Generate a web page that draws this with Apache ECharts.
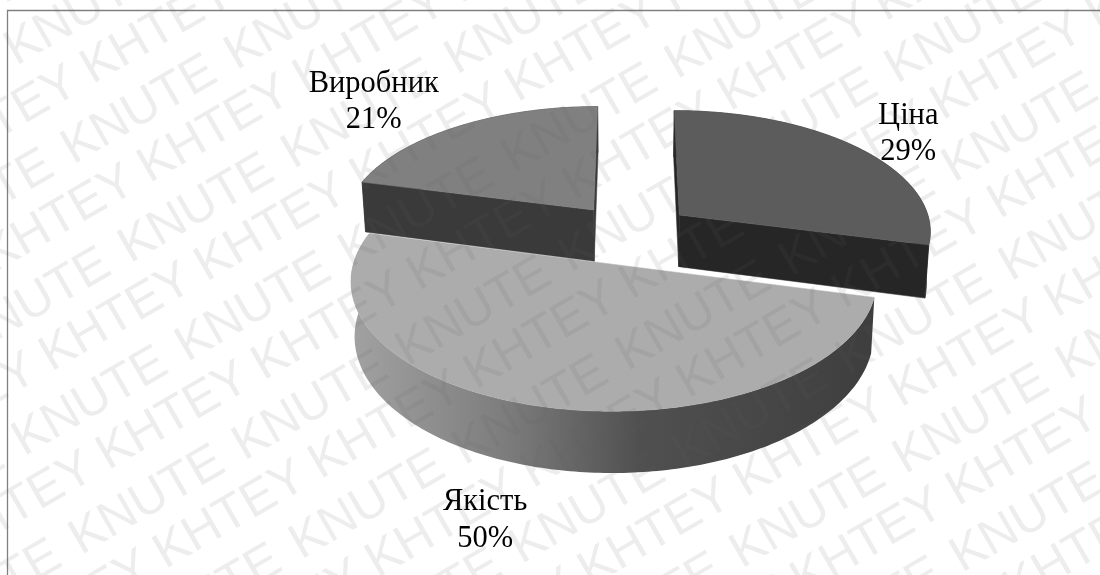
<!DOCTYPE html>
<html>
<head>
<meta charset="utf-8">
<style>html,body{margin:0;padding:0;background:#fff}#chart{width:1100px;height:575px}</style>
<script src="https://cdn.jsdelivr.net/npm/echarts@6/dist/echarts.min.js"></script>
</head>
<body>
<div id="chart"></div>
<script>
// Shares of the purchase factors, clockwise from twelve o'clock
const categories = ['Ціна', 'Якість', 'Виробник'];
const shares = [29, 50, 21];

// How far each slice is pulled out of the pie, in radii
const explode = [0.246, 0.26, 0.246];
const topColors = ['#5c5c5c', '#acacac', '#808080'];
const wallColors = ['#262626', null, '#3a3a3a'];
// Label centre relative to the slice apex, in pixels
const labelOffsets = [[229, -81], [-129, 256], [-220, -108]];

const watermarkWords = ['KNUTE', 'KHTEY'];

// Perspective of the pie plane
const view = { x0: 631, y0: 233, ax: 253, by: 121, k: 0.12, depth: 52.5, shrink: 0.987 };

function project(u, v, low) {
  const w = 1 + view.k * v;
  let x = view.x0 + view.ax * u / w;
  let y = view.y0 - view.by * v / w;
  if (low) {
    x = view.x0 + (x - view.x0) * view.shrink;
    y += view.depth / w;
  }
  return [x, y];
}

const total = shares.reduce((a, b) => a + b, 0);
function sliceRange(index) {
  let before = 0;
  for (let i = 0; i < index; i++) before += shares[i];
  return [before / total * 2 * Math.PI, (before + shares[index]) / total * 2 * Math.PI];
}

function renderSlice(params, api) {
  const i = params.dataIndex;
  const [a0, a1] = sliceRange(i);
  const mid = (a0 + a1) / 2;
  const cu = explode[i] * Math.sin(mid);
  const cv = explode[i] * Math.cos(mid);
  const rim = [];
  const steps = Math.ceil((a1 - a0) * 60);
  for (let s = 0; s <= steps; s++) {
    const t = a0 + (a1 - a0) * s / steps;
    rim.push([cu + Math.sin(t), cv + Math.cos(t)]);
  }
  const apexTop = project(cu, cv, false);
  const apexLow = project(cu, cv, true);
  const rimTop = rim.map(p => project(p[0], p[1], false));
  const rimLow = rim.map(p => project(p[0], p[1], true));
  const z = Math.round(100 - cv * 100);

  const wallFill = wallColors[i] || {
    type: 'linear', x: 0, y: 0, x2: 1, y2: 0,
    colorStops: [
      { offset: 0, color: '#a2a2a2' },
      { offset: 0.3, color: '#7c7c7c' },
      { offset: 0.55, color: '#505050' },
      { offset: 1, color: '#3e3e3e' }
    ]
  };
  const face = (pts, fill) => ({
    type: 'polygon', z2: z, silent: true, shape: { points: pts },
    style: typeof fill === 'string'
      ? { fill: fill, stroke: fill, lineWidth: 0.5, lineJoin: 'round' }
      : { fill: fill }
  });
  const children = [];
  if (wallColors[i]) {
    children.push(face([apexTop, rimTop[0], rimLow[0], apexLow], wallFill));
    children.push(face([apexTop, rimTop[rimTop.length - 1], rimLow[rimLow.length - 1], apexLow], wallFill));
  }
  children.push(face(rimTop.concat(rimLow.slice().reverse()), wallFill));
  children.push(face([apexTop].concat(rimTop), topColors[i]));

  const off = labelOffsets[i];
  children.push({
    type: 'text', z2: 500,
    x: apexTop[0] + off[0], y: apexTop[1] + off[1],
    style: {
      text: categories[i] + '\n' + api.value(1) + '%',
      font: '30.5px "Liberation Serif"', lineHeight: 36.5,
      fill: '#000', align: 'center', verticalAlign: 'middle'
    }
  });
  return { type: 'group', children };
}

// Diagonal repeated lettering laid over the whole drawing;
// the two words alternate row by row, each with its own pitch
function watermark() {
  const out = [];
  const angle = Math.PI / 6;
  const fontSize = 50;
  const tx = Math.cos(angle), ty = -Math.sin(angle);
  const nx = Math.sin(angle), ny = Math.cos(angle);
  const rowGap = 57;
  // Text is anchored on its mid-height, so lift the baseline points by that much
  const lift = fontSize * 0.35;
  const anchors = [[75, 168, 188.5], [53, 375, 179.5]];
  for (let r = -18; r <= 18; r++) {
    const kind = ((r % 2) + 2) % 2;
    const [ax, ay, pitch] = anchors[kind];
    const row = kind === 0 ? r : r - 3;
    for (let c = -9; c <= 9; c++) {
      const x = ax + nx * (row * rowGap - lift) + tx * c * pitch;
      const y = ay + ny * (row * rowGap - lift) + ty * c * pitch;
      const ex = x + tx * 170, ey = y + ty * 170;
      if ((x < -60 && ex < -60) || (x > 1160 && ex > 1160) || (y < -60 && ey < -60) || (y > 640 && ey > 640)) continue;
      out.push({
        type: 'text', x, y, rotation: angle, silent: true, z: 100,
        style: {
          text: watermarkWords[kind],
          font: fontSize + 'px "Liberation Sans"',
          fill: 'rgba(100,100,100,0.115)',
          verticalAlign: 'middle'
        }
      });
    }
  }
  return out;
}

const frame = {
  type: 'polyline', silent: true, z: 50,
  shape: { points: [[7.5, 575], [7.5, 10.5], [1100, 10.5]] },
  style: { stroke: '#808080', lineWidth: 1.3, fill: null }
};

const chart = echarts.init(document.getElementById('chart'), null, { renderer: 'canvas' });
chart.setOption({
  animation: false,
  backgroundColor: '#ffffff',
  graphic: { elements: [frame].concat(watermark()) },
  series: [{
    type: 'custom',
    coordinateSystem: 'none',
    renderItem: renderSlice,
    data: shares.map((v, i) => [i, v])
  }]
});
</script>
</body>
</html>
